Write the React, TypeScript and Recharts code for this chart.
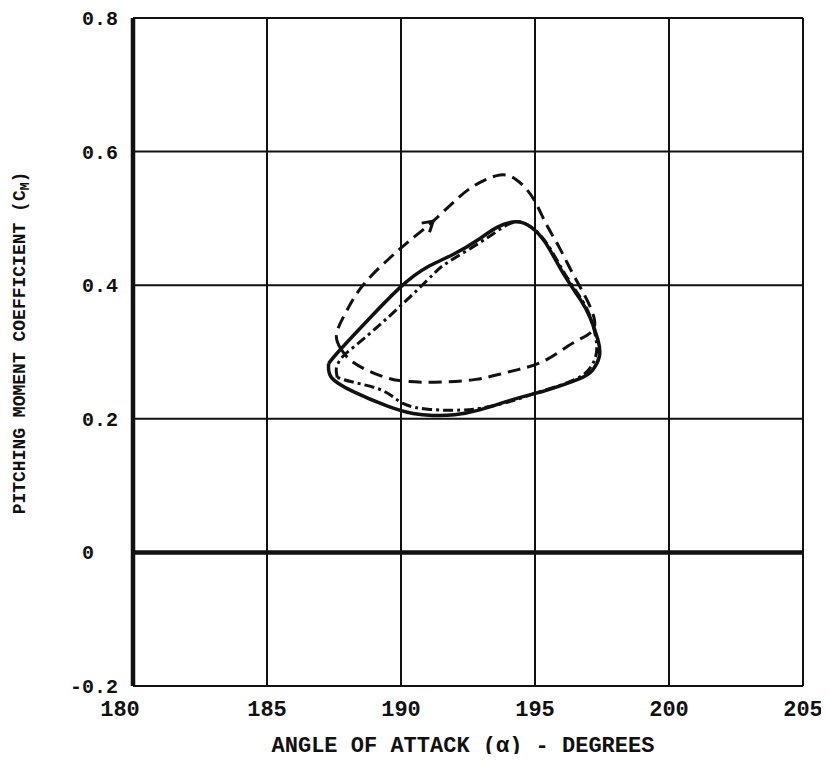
import React from 'react';
import {
  LineChart,
  Line,
  XAxis,
  YAxis,
  CartesianGrid,
  ReferenceLine,
  ReferenceDot,
} from 'recharts';

// Axis ticks
const alphaTicks = [180, 185, 190, 195, 200, 205];
const cmTicks = [-0.2, 0, 0.2, 0.4, 0.6, 0.8];

// Dashed loop (traversed clockwise, arrow on the upper branch)
const dashedLoop = [
  { x: 187.72, y: 0.307 },
  { x: 187.6, y: 0.328 },
  { x: 187.99, y: 0.363 },
  { x: 188.58, y: 0.4 },
  { x: 189.48, y: 0.437 },
  { x: 190.3, y: 0.466 },
  { x: 191.2, y: 0.496 },
  { x: 192.2, y: 0.533 },
  { x: 192.95, y: 0.554 },
  { x: 193.7, y: 0.565 },
  { x: 194.3, y: 0.558 },
  { x: 194.9, y: 0.532 },
  { x: 195.4, y: 0.493 },
  { x: 195.9, y: 0.457 },
  { x: 196.4, y: 0.418 },
  { x: 196.85, y: 0.385 },
  { x: 197.2, y: 0.352 },
  { x: 197.1, y: 0.33 },
  { x: 196.4, y: 0.313 },
  { x: 195.45, y: 0.289 },
  { x: 194.6, y: 0.276 },
  { x: 193.8, y: 0.268 },
  { x: 192.8, y: 0.259 },
  { x: 191.5, y: 0.255 },
  { x: 190.2, y: 0.256 },
  { x: 189.2, y: 0.265 },
  { x: 188.2, y: 0.285 },
  { x: 187.72, y: 0.307 },
];

// Solid loop
const solidLoop = [
  { x: 187.3, y: 0.283 },
  { x: 187.72, y: 0.303 },
  { x: 188.84, y: 0.351 },
  { x: 190.03, y: 0.399 },
  { x: 190.97, y: 0.427 },
  { x: 191.94, y: 0.446 },
  { x: 192.95, y: 0.47 },
  { x: 193.6, y: 0.487 },
  { x: 194.3, y: 0.495 },
  { x: 194.85, y: 0.487 },
  { x: 195.4, y: 0.463 },
  { x: 196.05, y: 0.418 },
  { x: 196.7, y: 0.378 },
  { x: 197.05, y: 0.352 },
  { x: 197.35, y: 0.318 },
  { x: 197.4, y: 0.293 },
  { x: 197.15, y: 0.273 },
  { x: 196.6, y: 0.259 },
  { x: 195.45, y: 0.243 },
  { x: 194.9, y: 0.237 },
  { x: 193.95, y: 0.226 },
  { x: 192.9, y: 0.213 },
  { x: 192.0, y: 0.206 },
  { x: 191.2, y: 0.205 },
  { x: 190.45, y: 0.208 },
  { x: 189.5, y: 0.219 },
  { x: 188.2, y: 0.241 },
  { x: 187.4, y: 0.262 },
  { x: 187.3, y: 0.283 },
];

// Dash-dot loop
const dashDotLoop = [
  { x: 187.62, y: 0.262 },
  { x: 187.6, y: 0.278 },
  { x: 187.8, y: 0.292 },
  { x: 188.1, y: 0.303 },
  { x: 189.33, y: 0.345 },
  { x: 190.97, y: 0.407 },
  { x: 191.7, y: 0.433 },
  { x: 192.95, y: 0.464 },
  { x: 193.9, y: 0.489 },
  { x: 194.4, y: 0.495 },
  { x: 194.85, y: 0.487 },
  { x: 195.45, y: 0.462 },
  { x: 196.1, y: 0.418 },
  { x: 196.75, y: 0.378 },
  { x: 197.1, y: 0.348 },
  { x: 197.3, y: 0.312 },
  { x: 197.2, y: 0.286 },
  { x: 196.8, y: 0.266 },
  { x: 196.0, y: 0.251 },
  { x: 195.0, y: 0.238 },
  { x: 194.0, y: 0.225 },
  { x: 193.0, y: 0.216 },
  { x: 192.2, y: 0.213 },
  { x: 191.08, y: 0.214 },
  { x: 190.07, y: 0.223 },
  { x: 189.33, y: 0.242 },
  { x: 188.2, y: 0.255 },
  { x: 187.62, y: 0.262 },
];

// Direction marker on the dashed loop
const arrowAt = { x: 191.2, y: 0.496 };

const INK = '#111';
const FONT = '"Liberation Mono", "DejaVu Sans Mono", monospace';

const CmTick = (props: any) => {
  const { y, payload } = props;
  const v: number = payload.value;
  const label = v === 0 ? '0' : v.toFixed(1);
  return (
    <text
      x={v < 0 ? 70 : 82}
      y={y + 7}
      textAnchor="start"
      fontFamily={FONT}
      fontWeight="bold"
      fontSize={20}
      fill={INK}
    >
      {label}
    </text>
  );
};

const AlphaTick = (props: any) => {
  const { x, y, payload } = props;
  const v: number = payload.value;
  return (
    <text
      x={v === 180 ? x - 13 : x}
      y={y + 30}
      textAnchor="middle"
      fontFamily={FONT}
      fontWeight="bold"
      fontSize={22}
      fill={INK}
    >
      {v}
    </text>
  );
};

const ArrowHead = (props: any) => {
  const { cx, cy } = props;
  if (cx == null || cy == null) return null;
  return (
    <path
      d="M -10 -6 L 0 0 L -10 6"
      transform={`translate(${cx},${cy}) rotate(-41)`}
      fill="none"
      stroke={INK}
      strokeWidth={3}
      strokeLinejoin="miter"
    />
  );
};

export default function App() {
  return (
    <div style={{ width: 829, height: 762, margin: -8, background: '#fff' }}>
      <LineChart
        width={829}
        height={762}
        margin={{ top: 18, right: 26, bottom: 0, left: 0 }}
      >
        <CartesianGrid stroke={INK} strokeWidth={2} strokeOpacity={1} />
        <XAxis
          type="number"
          dataKey="x"
          domain={[180, 205]}
          ticks={alphaTicks}
          allowDataOverflow
          height={76}
          tickLine={false}
          tickSize={0}
          tickMargin={0}
          axisLine={{ stroke: INK, strokeWidth: 2 }}
          tick={<AlphaTick />}
          interval={0}
        />
        <YAxis
          type="number"
          dataKey="y"
          domain={[-0.2, 0.8]}
          ticks={cmTicks}
          allowDataOverflow
          width={133}
          tickLine={false}
          tickSize={0}
          tickMargin={0}
          axisLine={{ stroke: INK, strokeWidth: 4.5 }}
          tick={<CmTick />}
          interval={0}
        />
        <ReferenceLine y={0} stroke={INK} strokeWidth={4.5} />
        <Line
          data={dashedLoop}
          dataKey="y"
          type="natural"
          stroke={INK}
          strokeWidth={3}
          strokeDasharray="13 7"
          dot={false}
          isAnimationActive={false}
        />
        <Line
          data={dashDotLoop}
          dataKey="y"
          type="natural"
          stroke={INK}
          strokeWidth={3}
          strokeDasharray="10 4 3 4"
          dot={false}
          isAnimationActive={false}
        />
        <Line
          data={solidLoop}
          dataKey="y"
          type="natural"
          stroke={INK}
          strokeWidth={3.5}
          dot={false}
          isAnimationActive={false}
        />
        <ReferenceDot x={arrowAt.x} y={arrowAt.y} r={0} shape={<ArrowHead />} />
        <text
          x={463}
          y={752}
          textAnchor="middle"
          fontFamily={FONT}
          fontWeight="bold"
          fontSize={22}
          fill={INK}
        >
          ANGLE OF ATTACK (α) - DEGREES
        </text>
        <text
          transform="translate(25, 343) rotate(-90)"
          textAnchor="middle"
          fontFamily={FONT}
          fontWeight="bold"
          fontSize={18}
          fill={INK}
        >
          PITCHING MOMENT COEFFICIENT (C
          <tspan fontSize={13} dy={4}>M</tspan>
          <tspan dy={-4}>)</tspan>
        </text>
      </LineChart>
    </div>
  );
}
